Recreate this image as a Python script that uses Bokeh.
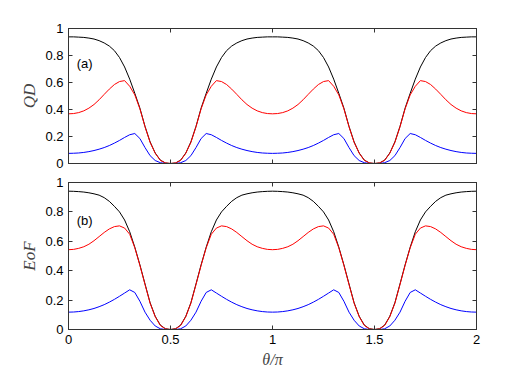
from bokeh.plotting import figure
from bokeh.models import Range1d, LinearAxis, FixedTicker, CustomJSTickFormatter, Label, CustomLabelingPolicy
from bokeh.layouts import column
from bokeh.embed import file_html
from bokeh.resources import INLINE

theta = [round(i * 0.025, 3) for i in range(81)]

qd_black = [0.938, 0.938, 0.936, 0.934, 0.929, 0.922, 0.910, 0.893, 0.870, 0.836, 0.785, 0.715, 0.625, 0.520, 0.410, 0.275, 0.160, 0.078, 0.025, 0.004, 0.000,
            0.004, 0.025, 0.078, 0.160, 0.275, 0.410, 0.520, 0.625, 0.715, 0.785, 0.836, 0.870, 0.893, 0.910, 0.922, 0.929, 0.934, 0.936, 0.938, 0.938,
            0.938, 0.936, 0.934, 0.929, 0.922, 0.910, 0.893, 0.870, 0.836, 0.785, 0.715, 0.625, 0.520, 0.410, 0.275, 0.160, 0.078, 0.025, 0.004, 0.000,
            0.004, 0.025, 0.078, 0.160, 0.275, 0.410, 0.520, 0.625, 0.715, 0.785, 0.836, 0.870, 0.893, 0.910, 0.922, 0.929, 0.934, 0.936, 0.938, 0.938]
qd_red = [0.368, 0.370, 0.377, 0.390, 0.410, 0.437, 0.472, 0.512, 0.551, 0.585, 0.607, 0.614, 0.572, 0.508, 0.405, 0.272, 0.157, 0.076, 0.024, 0.004, 0.000,
          0.004, 0.024, 0.076, 0.157, 0.272, 0.405, 0.508, 0.572, 0.614, 0.607, 0.585, 0.551, 0.512, 0.472, 0.437, 0.410, 0.390, 0.377, 0.370, 0.368,
          0.370, 0.377, 0.390, 0.410, 0.437, 0.472, 0.512, 0.551, 0.585, 0.607, 0.614, 0.572, 0.508, 0.405, 0.272, 0.157, 0.076, 0.024, 0.004, 0.000,
          0.004, 0.024, 0.076, 0.157, 0.272, 0.405, 0.508, 0.572, 0.614, 0.607, 0.585, 0.551, 0.512, 0.472, 0.437, 0.410, 0.390, 0.377, 0.370, 0.368]
qd_blue = [0.075, 0.076, 0.078, 0.082, 0.088, 0.096, 0.106, 0.118, 0.133, 0.151, 0.171, 0.193, 0.213, 0.222, 0.185, 0.118, 0.058, 0.022, 0.006, 0.000, 0.000,
           0.000, 0.006, 0.022, 0.058, 0.118, 0.185, 0.222, 0.213, 0.193, 0.171, 0.151, 0.133, 0.118, 0.106, 0.096, 0.088, 0.082, 0.078, 0.076, 0.075,
           0.076, 0.078, 0.082, 0.088, 0.096, 0.106, 0.118, 0.133, 0.151, 0.171, 0.193, 0.213, 0.222, 0.185, 0.118, 0.058, 0.022, 0.006, 0.000, 0.000,
           0.000, 0.006, 0.022, 0.058, 0.118, 0.185, 0.222, 0.213, 0.193, 0.171, 0.151, 0.133, 0.118, 0.106, 0.096, 0.088, 0.082, 0.078, 0.076, 0.075]

eof_black = [0.941, 0.940, 0.938, 0.935, 0.930, 0.923, 0.914, 0.897, 0.872, 0.838, 0.800, 0.745, 0.665, 0.560, 0.440, 0.310, 0.182, 0.090, 0.030, 0.005, 0.000,
             0.005, 0.030, 0.090, 0.182, 0.310, 0.440, 0.560, 0.665, 0.745, 0.800, 0.838, 0.872, 0.897, 0.914, 0.923, 0.930, 0.935, 0.938, 0.940, 0.941,
             0.940, 0.938, 0.935, 0.930, 0.923, 0.914, 0.897, 0.872, 0.838, 0.800, 0.745, 0.665, 0.560, 0.440, 0.310, 0.182, 0.090, 0.030, 0.005, 0.000,
             0.005, 0.030, 0.090, 0.182, 0.310, 0.440, 0.560, 0.665, 0.745, 0.800, 0.838, 0.872, 0.897, 0.914, 0.923, 0.930, 0.935, 0.938, 0.940, 0.941]
eof_red = [0.543, 0.545, 0.552, 0.563, 0.580, 0.604, 0.632, 0.660, 0.684, 0.700, 0.705, 0.690, 0.648, 0.556, 0.436, 0.306, 0.179, 0.087, 0.028, 0.004, 0.000,
           0.004, 0.028, 0.087, 0.179, 0.306, 0.436, 0.556, 0.648, 0.690, 0.705, 0.700, 0.684, 0.660, 0.632, 0.604, 0.580, 0.563, 0.552, 0.545, 0.543,
           0.545, 0.552, 0.563, 0.580, 0.604, 0.632, 0.660, 0.684, 0.700, 0.705, 0.690, 0.648, 0.556, 0.436, 0.306, 0.179, 0.087, 0.028, 0.004, 0.000,
           0.004, 0.028, 0.087, 0.179, 0.306, 0.436, 0.556, 0.648, 0.690, 0.705, 0.700, 0.684, 0.660, 0.632, 0.604, 0.580, 0.563, 0.552, 0.545, 0.543]
eof_blue = [0.118, 0.119, 0.122, 0.127, 0.134, 0.143, 0.155, 0.169, 0.186, 0.205, 0.226, 0.248, 0.270, 0.252, 0.192, 0.118, 0.063, 0.024, 0.005, 0.000, 0.000,
            0.000, 0.005, 0.024, 0.063, 0.118, 0.192, 0.252, 0.270, 0.248, 0.226, 0.205, 0.186, 0.169, 0.155, 0.143, 0.134, 0.127, 0.122, 0.119, 0.118,
            0.119, 0.122, 0.127, 0.134, 0.143, 0.155, 0.169, 0.186, 0.205, 0.226, 0.248, 0.270, 0.252, 0.192, 0.118, 0.063, 0.024, 0.005, 0.000, 0.000,
            0.000, 0.005, 0.024, 0.063, 0.118, 0.192, 0.252, 0.270, 0.248, 0.226, 0.205, 0.186, 0.169, 0.155, 0.143, 0.134, 0.127, 0.122, 0.119, 0.118]

x_ticks = [0, 0.5, 1, 1.5, 2]
y_ticks = [0, 0.2, 0.4, 0.6, 0.8, 1]

TICK_FONT = "Liberation Sans"
LABEL_FONT = "Liberation Serif"
fmt_code = "return String(Math.round(tick*10)/10)"
hide_code = "for (const i of Array.from(indices)) { indices.unset(i) } return indices"


def style_axis(ax, ticks, show_labels):
    ax.ticker = FixedTicker(ticks=ticks)
    ax.formatter = CustomJSTickFormatter(code=fmt_code)
    ax.major_tick_in = 4
    ax.major_tick_out = 0
    ax.minor_tick_in = 0
    ax.minor_tick_out = 0
    ax.axis_line_color = "#333333"
    ax.major_tick_line_color = "#333333"
    ax.major_label_text_font = TICK_FONT
    ax.major_label_text_color = "black"
    if show_labels:
        ax.major_label_text_font_size = "13px"
        ax.major_label_standoff = 5
    else:
        ax.major_label_text_font_size = "1px"
        ax.major_label_standoff = 0
        ax.axis_label_standoff = 0
        ax.major_label_policy = CustomLabelingPolicy(code=hide_code)


def make_panel(height, top, bottom, ylabel, tag, series, show_x):
    p = figure(width=516, height=height, output_backend="svg", toolbar_location=None,
               x_range=Range1d(0, 2), y_range=Range1d(0, 1),
               min_border_left=68, min_border_right=40, min_border_top=top, min_border_bottom=bottom,
               x_axis_location=None, y_axis_location=None)
    p.grid.visible = False
    p.outline_line_color = "#333333"
    p.background_fill_color = "white"
    p.border_fill_color = "white"

    xb = LinearAxis()
    style_axis(xb, x_ticks, show_x)
    if show_x:
        xb.major_label_standoff = 5
        xb.axis_label = "θ/π"
        xb.axis_label_text_font = LABEL_FONT
        xb.axis_label_text_font_style = "italic"
        xb.axis_label_text_font_size = "16px"
        xb.axis_label_standoff = 4
    p.add_layout(xb, "below")
    xt = LinearAxis()
    style_axis(xt, x_ticks, False)
    p.add_layout(xt, "above")

    yl = LinearAxis()
    style_axis(yl, y_ticks, True)
    yl.axis_label = ylabel
    yl.axis_label_text_font = LABEL_FONT
    yl.axis_label_text_font_style = "italic"
    yl.axis_label_text_font_size = "17px"
    yl.axis_label_standoff = 3
    p.add_layout(yl, "left")
    yr = LinearAxis()
    style_axis(yr, y_ticks, False)
    p.add_layout(yr, "right")

    for ys, c in series:
        p.line(theta, ys, line_color=c, line_width=1)

    p.add_layout(Label(x=0.04, y=0.74, text=tag, text_font=TICK_FONT, text_font_size="13px",
                       text_baseline="middle", text_color="black"))
    return p


p1 = make_panel(173, 28, 10, "QD", "(a)",
                [(qd_black, "black"), (qd_red, "red"), (qd_blue, "blue")], False)
p2 = make_panel(198, 9, 42, "EoF", "(b)",
                [(eof_black, "black"), (eof_red, "red"), (eof_blue, "blue")], True)

layout = column(p1, p2, spacing=0)
open("out.html", "w").write(file_html(layout, INLINE))
